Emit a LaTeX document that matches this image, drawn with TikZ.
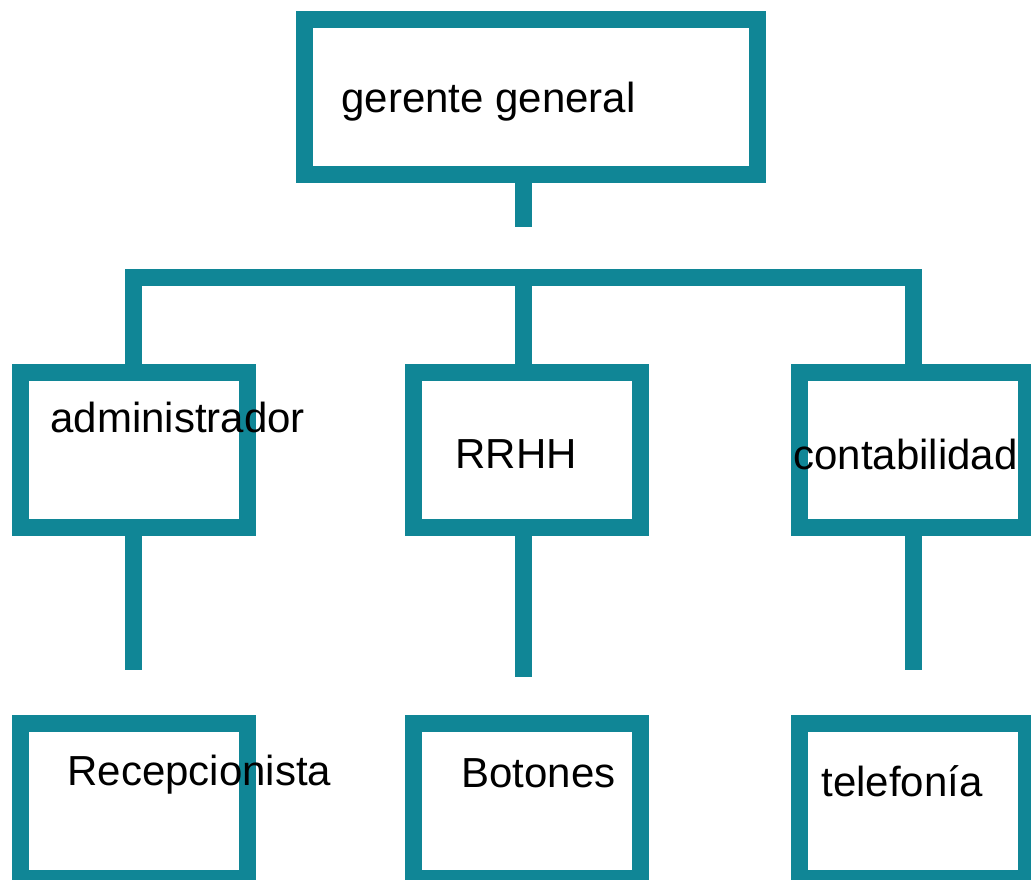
\documentclass[tikz,border=0pt]{standalone}
\usepackage{fontspec}
\setmainfont{Liberation Sans}
\usepackage{tikz}
\usepackage{xcolor}
\usetikzlibrary{calc}

\definecolor{orgteal}{RGB}{16,134,150}

\begin{document}
\begin{tikzpicture}[x=0.5pt,y=-0.5pt]
        \useasboundingbox (0,0) rectangle (1031,879);
        \clip (0,0) rectangle (1031,879);
        \tikzstyle{box}=[draw=orgteal,line width=8.5pt,minimum width=113.5pt,minimum height=77.5pt,inner sep=0pt]
        \tikzstyle{link}=[draw=orgteal,line width=8.5pt]
        \tikzstyle{lbl}=[anchor=base west,inner sep=0pt,font=\fontsize{21}{25}\selectfont]

        \node[box,minimum width=226.5pt] (gg) at (531,97) {};

        \node[box] (adm) at (133.5,450) {};
        \node[box] (rrhh) at (527,450) {};
        \node[box] (cont) at (913,450) {};

        \node[box] (recep) at (133.5,801) {};
        \node[box] (bot) at (527,801) {};
        \node[box] (tel) at (913,801) {};

        \coordinate (bus) at (523.5,277.5);
        \coordinate (ggend) at (523.5,227);
        \coordinate (admend) at (133.5,670);
        \coordinate (rrhhend) at (523.5,677);
        \coordinate (contend) at (913.5,670);

        \draw[link] (ggend |- gg.south) to (ggend);
        \draw[link] (adm.north) -- (adm.north |- bus) -- ($(cont.north |- bus)+(0.5,0)$) -- ($(cont.north)+(0.5,0)$);
        \draw[link] (bus) to (bus |- rrhh.north);

        \draw[link] (adm.south) to (admend);
        \draw[link] (rrhhend |- rrhh.south) to (rrhhend);
        \draw[link] (contend |- cont.south) to (contend);

        \node[lbl] (tgg) at ($(gg)+(-190,15)$) {gerente general};
        \node[lbl] (tadm) at ($(adm)+(-83.5,-18)$) {administrador};
        \node[lbl] (trrhh) at ($(rrhh)+(-72,18)$) {RRHH};
        \node[lbl] (tcont) at ($(cont)+(-120,19)$) {contabilidad};
        \node[lbl] (trecep) at ($(recep)+(-66.5,-16)$) {Recepcionista};
        \node[lbl] (tbot) at ($(bot)+(-66,-14)$) {Botones};
        \node[lbl] (ttel) at ($(tel)+(-92,-5)$) {telefonía};
    \end{tikzpicture}
\end{document}
